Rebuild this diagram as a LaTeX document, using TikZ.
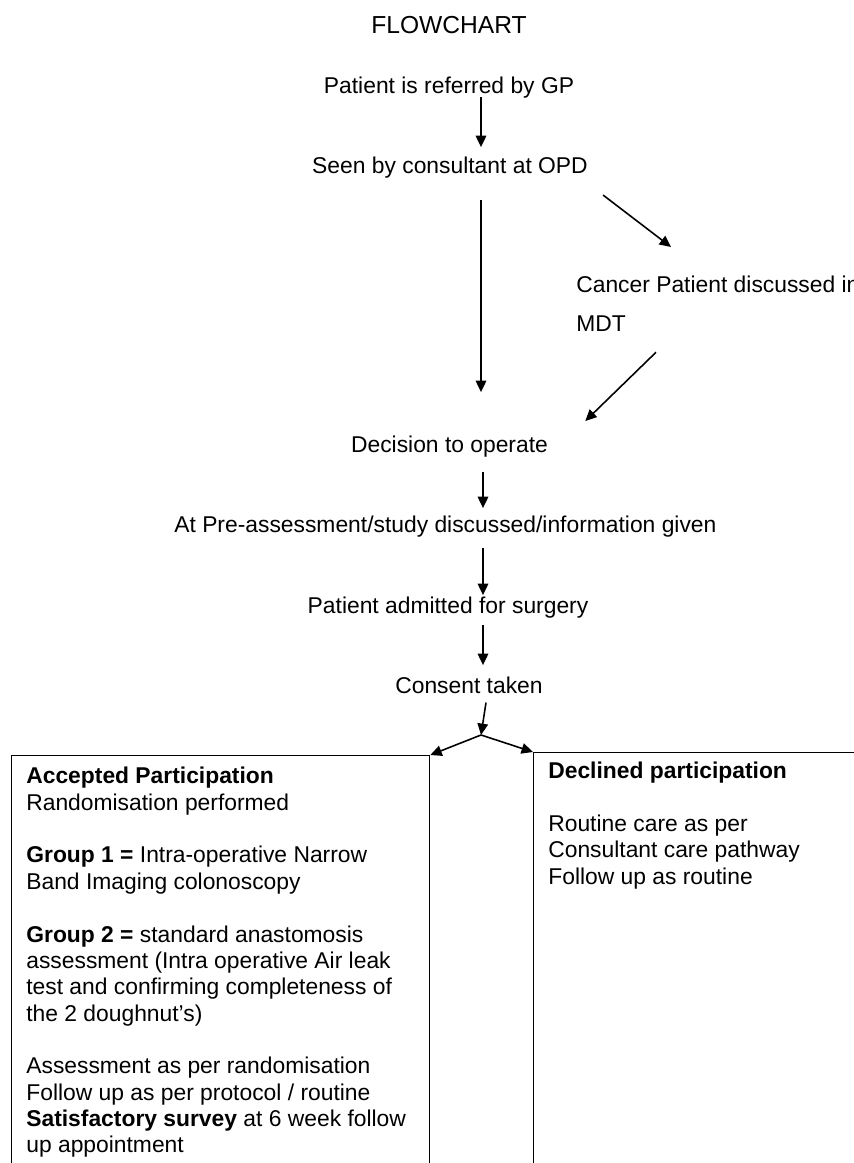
\documentclass[tikz,border=0pt]{standalone}
\usepackage{fontspec}
\setmainfont{Liberation Sans}
\usetikzlibrary{arrows.meta,calc,positioning}
\tikzset{
  lbl/.style={inner sep=0pt,font=\fontsize{13}{15}\selectfont},
  ttl/.style={inner sep=0pt,font=\fontsize{14}{17}\selectfont},
  boxtxt/.style={lbl,align=left,anchor=north west},
  frame/.style={draw,line width=0.8pt,inner sep=0pt,anchor=north west},
  arr/.style={-{Triangle[length=6.5pt,width=6pt]},line width=0.9pt},
}

\begin{document}
\begin{tikzpicture}[x=0.02cm,y=-0.02cm]
  \useasboundingbox (0,0) rectangle (854,1163);
  \clip (0,0) rectangle (854,1163);
  \coordinate (spine) at (481,0);

  % pathway
  \node[ttl,anchor=base] (title) at (449,33) {FLOWCHART};
  \node[lbl,anchor=base] (ref) at (449,93) {Patient is referred by GP};
  \node[lbl,anchor=base] (seen) at (450,173) {Seen by consultant at OPD};
  \node[lbl,align=left,anchor=north west] (mdt) at (576,276)
    {Cancer Patient discussed in\\[7.2pt] MDT};
  \node[lbl,anchor=base] (dec) at (449.5,452) {Decision to operate};
  \node[lbl,anchor=base west] (pre) at (174,532)
    {At Pre-assessment/study discussed/information given};
  \node[lbl,anchor=base] (adm) at (448,613) {Patient admitted for surgery};
  \node[lbl,anchor=base] (cons) at (469,693) {Consent taken};
  \coordinate (split) at (481,735);

  % outcome boxes
  \node[frame,minimum width=8.36cm,minimum height=10cm] (accbox) at (11,755) {};
  \node[frame,minimum width=8cm,minimum height=10cm] (declbox) at (533,752) {};
  \node[boxtxt] (acctxt) at (26,767) {\textbf{Accepted Participation}\\
    Randomisation performed\\[15pt]
    \textbf{Group 1 =} Intra-operative Narrow\\
    Band Imaging colonoscopy\\[15pt]
    \textbf{Group 2 =} standard anastomosis\\
    assessment (Intra operative Air leak\\
    test and confirming completeness of\\
    the 2 doughnut’s)\\[15pt]
    Assessment as per randomisation\\
    Follow up as per protocol / routine\\
    \textbf{Satisfactory survey} at 6 week follow\\
    up appointment};
  \node[boxtxt] (decltxt) at (548,762) {\textbf{Declined participation}\\[15pt]
    Routine care as per\\
    Consultant care pathway\\
    Follow up as routine};

  % arrows
  \draw[arr] ($(ref.south -| spine)+(0,-1)$) -- ($(seen.north -| spine)+(0,-9)$);
  \draw[arr] ($(seen.south -| spine)+(0,22)$) -- ($(dec.north -| spine)+(0,-43)$);
  \draw[arr] ($(seen.south east)+(15,17)$) -- ($(mdt.north west)+(95,-29)$);
  \draw[arr] ($(mdt.south west)+(80,20)$) -- ($(dec.north east)+(37,-14)$);
  \draw[arr] ($(dec.south -| spine)+(2,15)$) -- ($(pre.north -| spine)+(2,-7)$);
  \draw[arr] ($(pre.south -| spine)+(2,11)$) -- ($(adm.north -| spine)+(2,-1)$);
  \draw[arr] ($(adm.south -| spine)+(2,7)$) -- ($(cons.north -| spine)+(2,-11)$);
  \draw[arr] ($(cons.south -| spine)+(5,9)$) -- (split);
  \draw[arr] (split) -- (accbox.north east);
  \draw[arr] (split) -- (declbox.north west);
\end{tikzpicture}
\end{document}
